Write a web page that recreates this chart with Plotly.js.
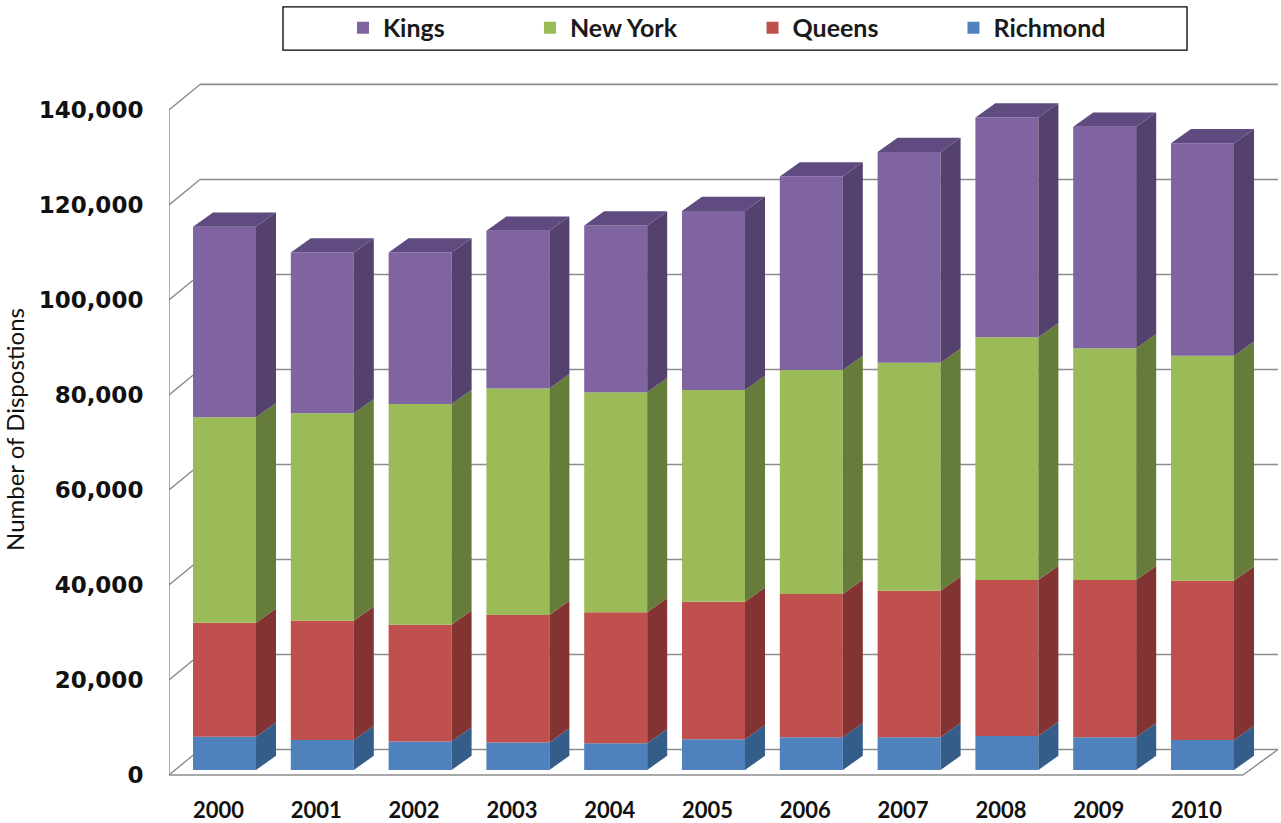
<!DOCTYPE html>
<html><head><meta charset="utf-8">
<script src="https://cdn.plot.ly/plotly-3.0.1.min.js"></script>
<style>html,body{margin:0;padding:0;background:#fff}#chart{width:1281px;height:823px}</style>
</head><body><div id="chart"></div>
<script>
// ---- data ----
const years = ['2000','2001','2002','2003','2004','2005','2006','2007','2008','2009','2010'];
const richmond = [7010, 6310, 5990, 5800, 5640, 6480, 6880, 6880, 7160, 6880, 6330];
const queens   = [24000, 25110, 24590, 26820, 27560, 28940, 30170, 30860, 32840, 33120, 33520];
const newYork  = [43230, 43660, 46450, 47710, 46310, 44560, 47150, 47990, 51080, 48770, 47360];
const kings    = [40100, 33860, 31910, 33180, 35110, 37700, 40730, 44360, 46270, 46640, 44710];
const yTickValues = [0, 20000, 40000, 60000, 80000, 100000, 120000, 140000];
const yTitle = 'Number of Dispostions';

// ---- styles ----
const series = [
  {name:'Richmond', values:richmond, front:'#4F81BD', side:'#345D8A', top:'#3F6A9C', legend:'legend4', lx:0.7061},
  {name:'Queens',   values:queens,   front:'#C0504D', side:'#833432', top:'#9A3E3B', legend:'legend3', lx:0.5252},
  {name:'New York', values:newYork,  front:'#9BBB59', side:'#667C3A', top:'#7A9446', legend:'legend2', lx:0.3249},
  {name:'Kings',    values:kings,    front:'#8064A2', side:'#54416D', top:'#5F4B80', legend:'legend',  lx:0.1566}
];

// ---- oblique-projection geometry (pixel derived constants) ----
const PX_X = 97.8, PX_Y = 210.5, X0 = 224.5, Y0 = 770;
const xd = px => (px - X0) / PX_X;
const yd = py => (Y0 - py) * PX_Y;
const W = 63 / PX_X;
const DX = 20 / PX_X, DY = 14.3 * PX_Y;
const FRONT_X = xd(169), FRONT_DY = yd(775);
const BACK_X = xd(200), BACK_DY = yd(749.5);
const FLOOR_R_FRONT = xd(1243), BACK_R = xd(1278);
const LABEL_SHIFT = -6 / PX_X;

const idx = years.map((_, i) => i);
const traces = [];
const base = years.map(() => 0);
const sideTraces = [];
series.forEach((s, k) => {
  const b0 = base.slice();
  traces.push({
    type:'bar', name:s.name, x:idx, y:s.values, base:b0, width:W, legend:s.legend,
    marker:{color:s.front, line:{width:0}}, hoverinfo:'name+y'
  });
  const sx = [], sy = [];
  idx.forEach(i => {
    const xr = i + W/2, b = b0[i], t = b0[i] + s.values[i];
    sx.push(xr, xr + DX, xr + DX, xr, xr, null);
    sy.push(b, b + DY, t + DY, t, b, null);
  });
  sideTraces.push({type:'scatter', mode:'lines', x:sx, y:sy, fill:'toself', fillcolor:s.side,
    line:{width:0, color:s.side}, showlegend:false, hoverinfo:'skip'});
  idx.forEach(i => { base[i] += s.values[i]; });
  if (k === series.length - 1) {
    const tx = [], ty = [];
    idx.forEach(i => {
      const xl = i - W/2, xr = i + W/2, T = base[i];
      tx.push(xl, xl + DX, xr + DX, xr, xl, null);
      ty.push(T, T + DY, T + DY, T, T, null);
    });
    sideTraces.push({type:'scatter', mode:'lines', x:tx, y:ty, fill:'toself', fillcolor:s.top,
      line:{width:0, color:s.top}, showlegend:false, hoverinfo:'skip'});
  }
});

const gridColor = '#8c8c8c';
const shapes = [];
yTickValues.forEach(t => {
  shapes.push({type:'line', layer:'below', xref:'x', yref:'y', x0:BACK_X, x1:BACK_R,
    y0:t + BACK_DY, y1:t + BACK_DY, line:{color:gridColor, width:1.6}});
  shapes.push({type:'line', layer:'below', xref:'x', yref:'y', x0:FRONT_X, x1:BACK_X,
    y0:t + FRONT_DY, y1:t + BACK_DY, line:{color:gridColor, width:1.4}});
});
shapes.push({type:'line', layer:'below', xref:'x', yref:'y', x0:FRONT_X, x1:FRONT_X,
  y0:FRONT_DY, y1:yTickValues[yTickValues.length-1] + FRONT_DY, line:{color:gridColor, width:1.4}});
shapes.push({type:'line', layer:'below', xref:'x', yref:'y', x0:FRONT_X, x1:FLOOR_R_FRONT,
  y0:FRONT_DY, y1:FRONT_DY, line:{color:gridColor, width:1.6}});
shapes.push({type:'line', layer:'below', xref:'x', yref:'y', x0:FLOOR_R_FRONT, x1:BACK_R,
  y0:FRONT_DY, y1:BACK_DY, line:{color:gridColor, width:1.4}});
// legend frame
shapes.push({type:'rect', xref:'paper', yref:'paper', x0:0.1026, x1:0.9163, y0:1.046, y1:1.108,
  line:{color:'#000', width:1.3}, fillcolor:'rgba(0,0,0,0)'});

const layout = {
  width:1281, height:823,
  margin:{l:169, r:1, t:82, b:46},
  paper_bgcolor:'#fff', plot_bgcolor:'rgba(0,0,0,0)',
  barmode:'overlay',
  showlegend:true,
  xaxis:{range:[xd(169), xd(1280)], tickmode:'array', tickvals:idx.map(i => i + LABEL_SHIFT), ticktext:years,
    showgrid:false, zeroline:false, showline:false, ticks:'', ticklabelstandoff:18,
    tickfont:{family:'Lato', size:22, weight:'bold', color:'#111'}, fixedrange:true},
  yaxis:{range:[yd(777), yd(82)], tickmode:'array', tickvals:yTickValues.map(t => t + FRONT_DY),
    ticktext:yTickValues.map(t => t.toLocaleString('en-US')),
    showgrid:false, zeroline:false, showline:false, ticks:'outside', ticklen:20, tickcolor:'rgba(0,0,0,0)',
    tickfont:{family:'DejaVu Sans', size:23, weight:'bold', color:'#111'},
    title:{text:yTitle, font:{family:'Lato', size:24, color:'#111'}, standoff:8}, fixedrange:true},
  shapes:shapes
};
series.forEach(s => {
  layout[s.legend] = {orientation:'h', x:s.lx, xanchor:'left', y:1.0777, yanchor:'middle',
    font:{family:'Lato', size:25, weight:'bold', color:'#1a1a1a'}, bgcolor:'rgba(0,0,0,0)', borderwidth:0};
});

Plotly.newPlot('chart', traces.concat(sideTraces), layout, {displayModeBar:false, staticPlot:true});
</script></body></html>
